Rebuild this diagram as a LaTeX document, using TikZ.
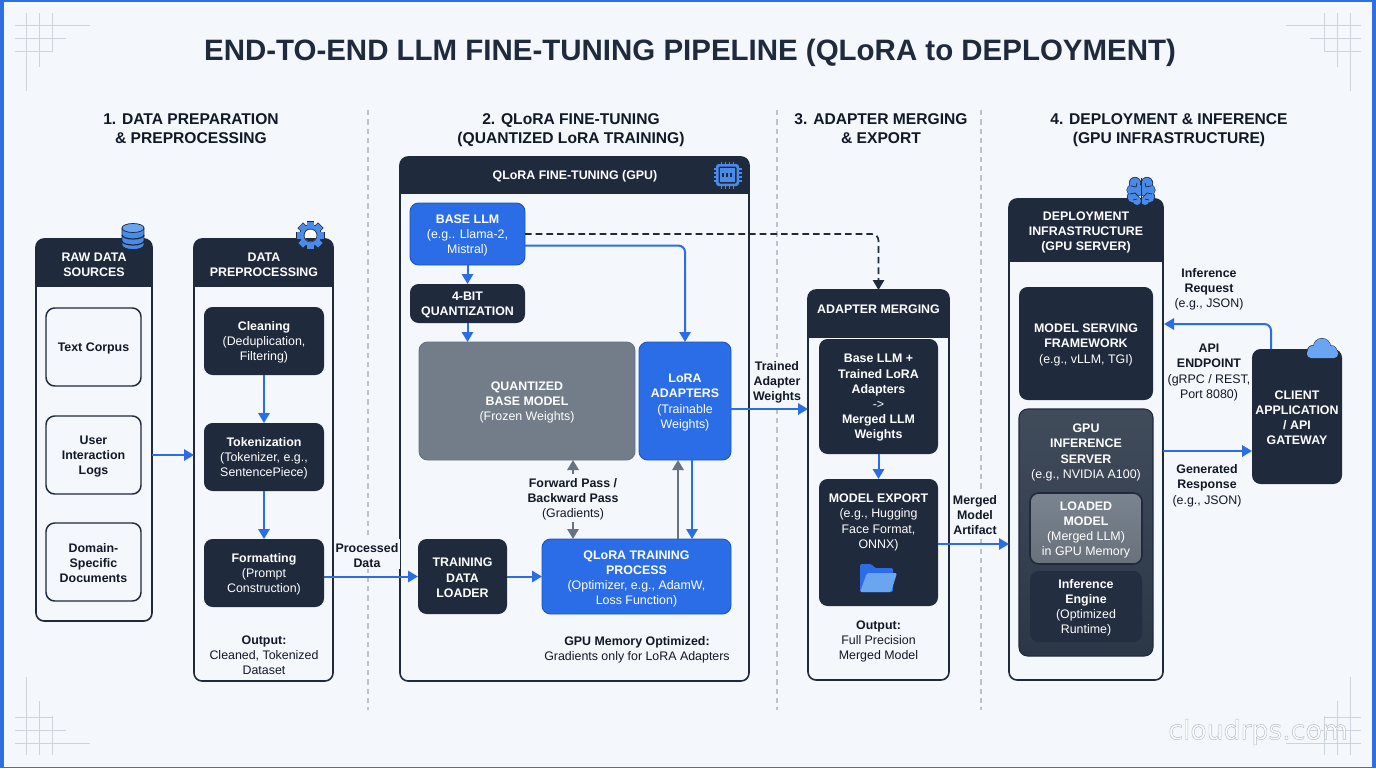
\documentclass[tikz,border=0pt]{standalone}
\usepackage{fontspec}
\setmainfont{Liberation Sans}
\newfontfamily\wmfont{DejaVu Sans}
\usetikzlibrary{arrows.meta,calc}
\definecolor{pagebg}{HTML}{F4F7FB}
\definecolor{frameblue}{HTML}{2F6FE4}
\definecolor{ink}{HTML}{1F2A3C}
\definecolor{blk}{HTML}{111827}
\definecolor{azure}{HTML}{2B6DE6}
\definecolor{azureline}{HTML}{1F56B8}
\definecolor{iconblue}{HTML}{4A8AE8}
\definecolor{iconlight}{HTML}{6AA5F2}
\definecolor{slate}{HTML}{737D89}
\definecolor{slateline}{HTML}{687382}
\definecolor{gridline}{HTML}{CDD3DA}
\definecolor{divline}{HTML}{BCC3CC}
\definecolor{wmark}{HTML}{B4BBC4}
\newcommand{\pbx}[7]{\node[#1,minimum width={(#5-#3)*0.75pt},minimum height={(#6-#4)*0.75pt}] (#2) at ({(#3+#5)/2},{(#4+#6)/2}) {#7};}
\newcommand{\panel}[6]{%
  \begin{scope}\clip[rounded corners=6pt] (#2,#3) rectangle (#4,#5); \fill[ink] (#2,#3) rectangle (#4,#6);\end{scope}
  \pbx{panelbox}{#1}{#2}{#3}{#4}{#5}{}}
\newcommand{\B}[1]{\rule{0pt}{8.6pt}\textbf{#1}}
\tikzset{
  x=0.75pt,y=-0.75pt,
  basebox/.style={rectangle,rounded corners=6.5pt,inner sep=0pt,outer sep=0pt,align=center,font=\fontsize{9.3}{11.4}\selectfont},
  panelbox/.style={basebox,rounded corners=6pt,draw=ink,line width=1.2pt},
  lightbox/.style={basebox,draw=ink,line width=1.1pt,text=blk},
  darkbox/.style={basebox,fill=ink,text=white},
  bluebox/.style={basebox,fill=azure,draw=azureline,line width=.7pt,text=white},
  slatebox/.style={basebox,fill=slate,draw=slateline,line width=.7pt,text=white},
  gpubox/.style={basebox,top color=ink!60!slate,bottom color=ink!85!slate,draw=ink,line width=.8pt},
  loadedbox/.style={basebox,top color=slate!95!white,bottom color=slate!90!black,draw=ink,line width=1.2pt},
  enginebox/.style={basebox,fill=ink!95!slate},
  wt/.style={inner sep=0pt,align=center,text=white,font=\fontsize{9.3}{11.4}\selectfont},
  lbl/.style={inner sep=1.5pt,align=center,text=blk,fill=pagebg,font=\fontsize{9.3}{11.4}\selectfont},
  head/.style={inner sep=0pt,align=center,text=blk,font=\fontsize{11.7}{14.25}\selectfont\bfseries},
  flow/.style={draw=azure,line width=1.5pt,-{Triangle[length=7.5pt,width=8.5pt]}},
  back/.style={draw=slateline,line width=1.5pt,-{Triangle[length=7.5pt,width=8.5pt]}},
  dashflow/.style={draw=ink,line width=1.25pt,dash pattern=on 5pt off 3pt,-{Triangle[length=7.5pt,width=8.5pt,fill=ink]}},
  divider/.style={draw=divline,line width=.8pt,dash pattern=on 4pt off 3pt},
  gridl/.style={draw=gridline,line width=.75pt},
  iconedge/.style={draw=ink,line width=.55pt},
}
\newcommand{\cornergrid}[1]{%
  \begin{scope}[#1]
    \draw[gridl] (26,13) -- (26,91);
    \draw[gridl] (39,13) -- (39,67);
    \draw[gridl] (52,13) -- (52,52);
    \draw[gridl] (15,25) -- (90,25);
    \draw[gridl] (15,38) -- (66,38);
    \draw[gridl] (15,51) -- (52,51);
  \end{scope}}
\begin{document}
\begin{tikzpicture}
\useasboundingbox (0,0) rectangle (1376,768);
\fill[frameblue] (0,0) rectangle (1376,768);
\fill[pagebg] (4,2) rectangle (1371.5,766.5);
\cornergrid{}
\cornergrid{xshift=1032pt,x=-0.75pt}
\cornergrid{yshift=-576pt,y=0.75pt}
\cornergrid{xshift=1032pt,yshift=-576pt,x=-0.75pt,y=0.75pt}

% watermark
\node[anchor=east,inner sep=0pt,text=white,font=\fontsize{20}{24}\selectfont\wmfont] (wmarkshadow) at (1348.7,732.7) {cloudrps.com};
\node[anchor=east,inner sep=0pt,text=wmark,font=\fontsize{20}{24}\selectfont\wmfont] (wmarktext) at (1348,732) {\special{pdf:code 1 Tr 0.35 w}cloudrps.com\special{pdf:code 0 Tr}};

% dividers
\coordinate (d1a) at (368,110); \coordinate (d1b) at (368,710);
\coordinate (d2a) at (777,110); \coordinate (d2b) at (777,710);
\coordinate (d3a) at (981,110); \coordinate (d3b) at (981,710);
\draw[divider] (d1a) -- (d1b);
\draw[divider] (d2a) -- (d2b);
\draw[divider] (d3a) -- (d3b);

% title and headings
\node[inner sep=0pt,text=ink,font=\fontsize{22.1}{24}\selectfont\bfseries] (title) at (690,53) {END-TO-END LLM FINE-TUNING PIPELINE (QLoRA to DEPLOYMENT)};
\node[head] (h1) at (191,130.5) {1. DATA PREPARATION\\\& PREPROCESSING\vphantom{()}};
\node[head] (h2) at (571,130.5) {2. QLoRA FINE-TUNING\\(QUANTIZED LoRA TRAINING)};
\node[head] (h3) at (881,130.5) {3. ADAPTER MERGING\\\& EXPORT\vphantom{()}};
\node[head] (h4) at (1169,130.5) {4. DEPLOYMENT \& INFERENCE\\(GPU INFRASTRUCTURE)};

% panel 1
\panel{rawpanel}{36}{239}{152}{621}{287}
\node[wt] (rawhead) at (94,263) {\B{RAW DATA}\\\B{SOURCES}};
\pbx{lightbox}{corpus}{46}{308}{141}{386}{\B{Text Corpus}}
\pbx{lightbox}{logs}{46}{416}{141}{494}{\B{User}\\\B{Interaction}\\\B{Logs}}
\pbx{lightbox}{docs}{46}{523}{141}{601}{\B{Domain-}\\\B{Specific}\\\B{Documents}}

% panel 2
\panel{preppanel}{194}{239}{333}{681}{287}
\node[wt] (prephead) at (264,263) {\B{DATA}\\\B{PREPROCESSING}};
\pbx{darkbox}{cleaning}{204}{307}{324}{375}{\B{Cleaning}\\(Deduplication,\\Filtering)}
\pbx{darkbox}{tokenize}{204}{423}{324}{491}{\B{Tokenization}\\(Tokenizer, e.g.,\\SentencePiece)}
\pbx{darkbox}{format}{204}{539}{324}{607}{\B{Formatting}\\(Prompt\\Construction)}
\node[lbl,fill=none] (prepout) at (264,654) {\B{Output:}\\Cleaned, Tokenized\\Dataset};

% panel 3
\panel{qpanel}{400}{157}{749}{681}{194}
\node[wt] (qhead) at (575,175.5) {\B{QLoRA FINE-TUNING (GPU)}};
\pbx{bluebox}{base}{410}{203}{525}{265}{\B{BASE LLM}\\(e.g.. Llama-2,\\Mistral)}
\pbx{darkbox}{quantize}{410}{284}{525}{323}{\B{4-BIT}\\\B{QUANTIZATION}}
\pbx{slatebox}{quant}{419}{342}{635}{460}{\B{QUANTIZED}\\\B{BASE MODEL}\\(Frozen Weights)}
\pbx{bluebox}{lora}{639}{342}{731}{460}{\B{LoRA}\\\B{ADAPTERS}\\(Trainable\\Weights)}
\pbx{darkbox}{loader}{418}{539}{507}{614}{\B{TRAINING}\\\B{DATA}\\\B{LOADER}}
\pbx{bluebox}{train}{542}{539}{731}{614}{}
\node[wt] (traintext) at (636.5,577.5) {\B{QLoRA TRAINING}\\\B{PROCESS}\\(Optimizer, e.g., AdamW,\\Loss Function)};
\node[lbl,fill=none] (passlabel) at (573,498) {\B{Forward Pass /}\\\B{Backward Pass}\\(Gradients)};
\node[lbl,fill=none] (gpunote) at (637,648.5) {\B{GPU Memory Optimized:}\\Gradients only for LoRA Adapters};

% panel 4
\panel{merge}{808}{290}{949}{680}{338}
\node[wt] (mergehead) at (878.5,308) {\B{ADAPTER MERGING}};
\pbx{darkbox}{mergebox}{819}{339}{938}{454}{\B{Base LLM +}\\\B{Trained LoRA}\\\B{Adapters}\\->\\\B{Merged LLM}\\\B{Weights}}
\pbx{darkbox}{export}{819}{479}{938}{606}{}
\node[wt] (exporttext) at (878.5,521) {\B{MODEL EXPORT}\\(e.g., Hugging\\Face Format,\\ONNX)};
\node[lbl,fill=none] (mergeout) at (878.5,640) {\B{Output:}\\Full Precision\\Merged Model};

% panel 5
\panel{deploy}{1009}{199}{1163}{680}{262}
\node[wt] (deployhead) at (1086,231) {\B{DEPLOYMENT}\\\B{INFRASTRUCTURE}\\\B{(GPU SERVER)}};
\pbx{darkbox}{serving}{1019}{287}{1153}{400}{\B{MODEL SERVING}\\\B{FRAMEWORK}\\(e.g., vLLM, TGI)}
\pbx{gpubox}{gpu}{1019}{409}{1153}{656}{}
\node[wt] (gputext) at (1086,451) {\B{GPU}\\\B{INFERENCE}\\\B{SERVER}\\(e.g., NVIDIA A100)};
\pbx{loadedbox,text=white}{loaded}{1030}{493}{1142}{564}{\B{LOADED}\\\B{MODEL}\\(Merged LLM)\\in GPU Memory}
\pbx{enginebox,text=white}{engine}{1030}{571}{1142}{642}{\B{Inference}\\\B{Engine}\\(Optimized\\Runtime)}
\pbx{darkbox}{client}{1252}{349}{1342}{484}{\B{CLIENT}\\\B{APPLICATION}\\\B{/ API}\\\B{GATEWAY}}

% connector labels
\node[lbl] (processed) at (367,554) {\B{Processed}\\\B{Data}};
\node[lbl] (trained) at (777,381) {\B{Trained}\\\B{Adapter}\\\B{Weights}};
\node[lbl] (artifact) at (975,514) {\B{Merged}\\\B{Model}\\\B{Artifact}};
\node[lbl] (request) at (1209,288) {\B{Inference}\\\B{Request}\\(e.g., JSON)};
\node[lbl] (endpoint) at (1209,371) {\B{API}\\\B{ENDPOINT}\\(gRPC / REST,\\Port 8080)};
\node[lbl] (response) at (1207,484.5) {\B{Generated}\\\B{Response}\\(e.g., JSON)};

% connectors
\draw[flow] (rawpanel.east |- logs) -- (preppanel.west |- logs);
\draw[flow] (cleaning) -- (tokenize);
\draw[flow] (tokenize) -- (format);
\draw[flow] (format.east |- loader) -- (loader.west);
\draw[flow] (base) -- (quantize);
\coordinate (qarrow) at (quantize.south);
\draw[flow] (qarrow) -- (qarrow |- quant.north);
\coordinate (baseout) at ($(base.east)+(0,11.5)$);
\draw[flow,rounded corners=5pt] (baseout) -| (lora.north);
\draw[dashflow,rounded corners=5pt] (base.east) -| (merge.north);
\draw[flow] (loader) -- (train);
\coordinate (upgray) at ($(lora.south)+(-7,0)$);
\coordinate (downblue) at ($(lora.south)+(7,0)$);
\draw[back] (upgray |- train.north) -- (upgray);
\draw[flow] (downblue) -- (downblue |- train.north);
\draw[back] (passlabel.north) -- (passlabel.north |- quant.south);
\draw[back] (passlabel.south) -- (passlabel.south |- train.north);
\coordinate (loraout) at ($(lora.east)+(0,8)$);
\draw[flow] (loraout) -- (loraout -| merge.west);
\draw[flow] (mergebox) -- (export);
\coordinate (expout) at ($(export.east)+(0,1.5)$);
\draw[flow] (expout) -- (expout -| deploy.west);
\coordinate (reqstart) at ($(client.north)+(-26,0)$);
\coordinate (reqend) at ($(deploy.east)+(1,-115.5)$);
\draw[flow,rounded corners=5pt] (reqstart) |- (reqend);
\coordinate (genstart) at ($(deploy.east)+(0,11.5)$);
\draw[flow] (genstart) -- (genstart -| client.west);

% database icon
\fill[iconblue] (122,228) rectangle (144,245);
\fill[iconblue] (133,245) ellipse [x radius=11,y radius=4.5];
\draw[iconedge] (122,228) -- (122,245) arc [start angle=180,end angle=360,x radius=11,y radius=-4.5] -- (144,228);
\fill[iconlight,iconedge] (133,228) ellipse [x radius=11,y radius=4.5];
\draw[ink,line width=.9pt] (122,235) arc [start angle=180,end angle=360,x radius=11,y radius=-4];
\draw[ink,line width=.9pt] (122,241) arc [start angle=180,end angle=360,x radius=11,y radius=-4];

% gear icon
\foreach \a in {0,45,...,315}{
  \fill[ink,rotate around={\a:(310.5,235.5)}] (306.6,221) rectangle (314.4,227);
}
\fill[ink] (310.5,235.5) circle [radius=11.2];
\foreach \a in {0,45,...,315}{
  \fill[iconblue,rotate around={\a:(310.5,235.5)}] (307.2,221.7) rectangle (313.8,227);
}
\fill[iconblue] (310.5,235.5) circle [radius=10.5];
\fill[ink] (310.5,235.5) circle [radius=6.8];
\fill[white] (310.5,235.5) circle [radius=6];
\begin{scope}\clip (303,238) rectangle (318,243); \fill[ink] (310.5,235.5) circle [radius=6];\end{scope}

% chip icon
\foreach \p in {-6,-2,2,6}{
  \draw[iconblue,line width=.9pt] (727.5+\p,161.5) -- (727.5+\p,165);
  \draw[iconblue,line width=.9pt] (727.5+\p,185) -- (727.5+\p,188.5);
  \draw[iconblue,line width=.9pt] (713.5,175+\p) -- (717,175+\p);
  \draw[iconblue,line width=.9pt] (738,175+\p) -- (741.5,175+\p);
}
\fill[iconblue,rounded corners=2pt] (716,164) rectangle (739,186);
\fill[ink,rounded corners=1pt] (718.5,166.5) rectangle (736.5,183.5);
\fill[iconblue] (720,168) rectangle (735,182);
\foreach \p in {723,727,731}{\fill[ink] (\p-1,173) rectangle (\p+1,177);}

% brain icon
\foreach \s in {-1,1}{
  \foreach \dx/\yy/\r in {6/183/5.5,9/190/5,8/197/5.5,4/201/4,4/190/6}{
    \fill[ink] (1141+\s*\dx,\yy) circle [radius=\r+.6];
  }
}
\foreach \s in {-1,1}{
  \foreach \dx/\yy/\r in {6/183/5.5,9/190/5,8/197/5.5,4/201/4,4/190/6}{
    \fill[iconblue] (1141+\s*\dx,\yy) circle [radius=\r];
  }
  \draw[ink,line width=.55pt] (1141+\s*10,186) -- (1141+\s*5,187) -- (1141+\s*4,183);
  \draw[ink,line width=.55pt] (1141+\s*11,194) -- (1141+\s*6,193) -- (1141+\s*3,196);
  \draw[ink,line width=.55pt] (1141+\s*8,200) -- (1141+\s*4,199);
}
\draw[ink,line width=.7pt] (1141,178) -- (1141,205);

% cloud icon
\foreach \cx/\cy/\r in {1322/347/8.5,1313/351/5.5,1331/351.5/5.8}{\fill[ink] (\cx,\cy) circle [radius=\r+.5];}
\fill[ink,rounded corners=3pt] (1306.5,349) rectangle (1338.5,358.5);
\fill[iconlight,rounded corners=3pt] (1307,349) rectangle (1338,358);
\foreach \cx/\cy/\r in {1322/347/8.5,1313/351/5.5,1331/351.5/5.8}{\fill[iconlight] (\cx,\cy) circle [radius=\r];}

% folder icon
\fill[azure,rounded corners=1pt] (860,592) -- (860,564) -- (871,564) -- (875,568) -- (893,568) -- (893,592) -- cycle;
\fill[iconlight,rounded corners=1pt] (860,592) -- (867,573) -- (897,573) -- (891,592) -- cycle;
\end{tikzpicture}
\end{document}
